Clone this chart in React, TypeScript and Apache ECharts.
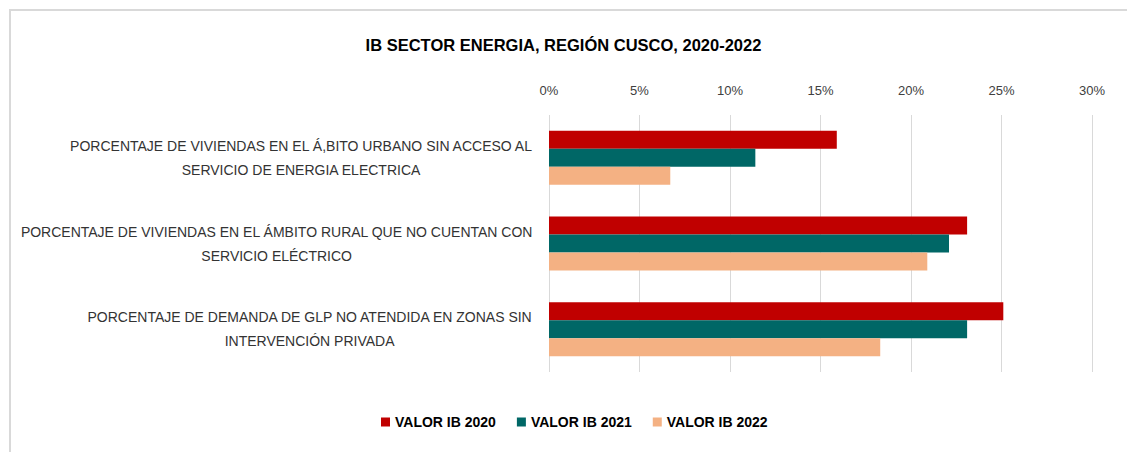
import React, { useEffect, useRef } from "react";
import * as echarts from "echarts";

const categories = [
  "PORCENTAJE DE VIVIENDAS EN EL Á,BITO URBANO SIN ACCESO AL\nSERVICIO DE ENERGIA ELECTRICA",
  "PORCENTAJE DE VIVIENDAS EN EL ÁMBITO RURAL QUE NO CUENTAN CON\nSERVICIO ELÉCTRICO",
  "PORCENTAJE DE DEMANDA DE GLP NO ATENDIDA EN ZONAS SIN\nINTERVENCIÓN PRIVADA",
];
const seriesNames = ["VALOR IB 2020", "VALOR IB 2021", "VALOR IB 2022"];
const valores2020 = [15.9, 23.1, 25.1];
const valores2021 = [11.4, 22.1, 23.1];
const valores2022 = [6.7, 20.9, 18.3];
const colors = ["#C00000", "#006766", "#F4B183"];

const FONT = "'Liberation Sans Narrow', 'Liberation Sans', Arial, sans-serif";

export default function App() {
  const ref = useRef<HTMLDivElement>(null);
  useEffect(() => {
    if (!ref.current) return;
    const chart = echarts.init(ref.current, null, { renderer: "svg" });
    const data = [valores2020, valores2021, valores2022];
    chart.setOption({
      animation: false,
      backgroundColor: "#ffffff",
      title: {
        text: "IB SECTOR ENERGIA, REGIÓN CUSCO, 2020-2022",
        left: "center",
        top: 31,
        textStyle: { fontFamily: FONT, fontSize: 16.5, fontWeight: "bold", color: "#000000" },
      },
      legend: {
        bottom: 18,
        left: 376,
        itemWidth: 9,
        itemHeight: 9,
        itemGap: 21,
        icon: "rect",
        data: seriesNames,
        textStyle: { fontFamily: FONT, fontSize: 14, fontWeight: "bold", color: "#000000" },
      },
      graphic: [
        { type: "line", shape: { x1: 9, y1: 10, x2: 1127, y2: 10 }, style: { stroke: "#d9d9d9", lineWidth: 2 } },
        { type: "line", shape: { x1: 10, y1: 10, x2: 10, y2: 452 }, style: { stroke: "#d9d9d9", lineWidth: 2 } },
      ],
      grid: { left: 549, right: 35, top: 115, bottom: 80, containLabel: false, outerBoundsMode: "none" },
      xAxis: {
        type: "value",
        position: "top",
        min: 0,
        max: 30,
        interval: 5,
        axisLine: { show: false },
        axisTick: { show: false },
        axisLabel: {
          formatter: (v: number) => `${v}%`,
          fontFamily: FONT,
          fontSize: 13,
          color: "#404040",
          margin: 18,
        },
        splitLine: { lineStyle: { color: "#d9d9d9", width: 1 } },
      },
      yAxis: {
        type: "category",
        inverse: true,
        data: categories,
        axisLine: { show: false },
        axisTick: { show: false },
        axisLabel: {
          fontFamily: FONT,
          fontSize: 14,
          color: "#333333",
          margin: 16,
          lineHeight: 24,
          formatter: (v: string) => v.split("\n").map((l) => `{c|${l}}`).join("\n"),
          rich: { c: { align: "center", fontFamily: FONT, fontSize: 14, color: "#333333", lineHeight: 24 } },
        },
      },
      series: seriesNames.map((name, i) => ({
        name,
        type: "bar",
        data: data[i],
        itemStyle: { color: colors[i] },
        barGap: "0%",
        barCategoryGap: "37%",
      })),
    });
    return () => chart.dispose();
  }, []);
  return <div ref={ref} style={{ position: "absolute", left: 0, top: 0, width: 1127, height: 452 }} />;
}
